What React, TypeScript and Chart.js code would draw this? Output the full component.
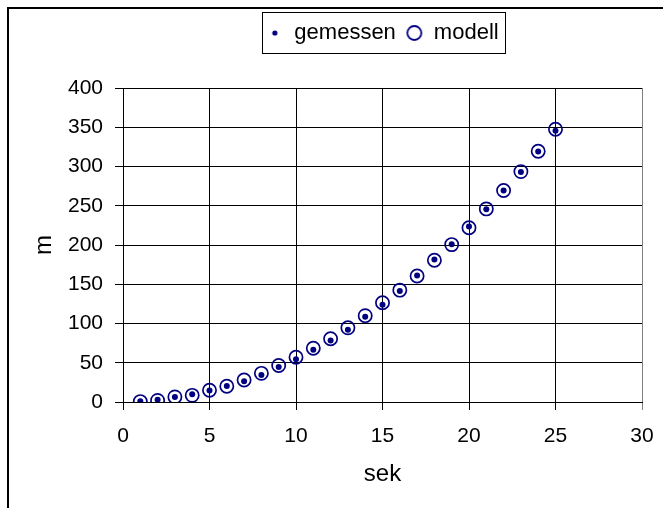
import React, { useEffect, useRef } from "react";
import { Chart, registerables } from "chart.js";

Chart.register(...registerables);

// ---- data ----
const SEK = [1, 2, 3, 4, 5, 6, 7, 8, 9, 10, 11, 12, 13, 14, 15, 16, 17, 18, 19, 20, 21, 22, 23, 24, 25];
const GEMESSEN = [1, 3, 6.5, 10, 14.5, 20.5, 26.5, 34.5, 44.5, 54.5, 66.5, 78.5, 92, 108.5, 124, 141.5, 161, 181.5, 201, 223.5, 245.5, 269.5, 293, 319, 345.5];
const MODELL = [0.5, 2, 6.5, 8.5, 15, 20, 28, 36.5, 46.5, 57, 68.5, 80.5, 94.5, 110, 126.5, 142.5, 160.5, 180.5, 200.5, 222, 246, 269.5, 293.5, 319.5, 347.5];
const SERIES_NAMES = ["gemessen", "modell"];
const X_TITLE = "sek";
const Y_TITLE = "m";
const X_MIN = 0, X_MAX = 30, X_STEP = 5;
const Y_MIN = 0, Y_MAX = 400, Y_STEP = 50;

const NAVY = "#000080";
const FONT = "'Liberation Sans', Arial, sans-serif";

function makeDot(r: number) {
  const c = document.createElement("canvas");
  const s = Math.ceil(r * 2) + 2;
  c.width = s; c.height = s;
  const ctx = c.getContext("2d")!;
  ctx.fillStyle = NAVY;
  ctx.beginPath();
  ctx.arc(s / 2, s / 2, r, 0, Math.PI * 2);
  ctx.fill();
  return c;
}
function makeRing(r: number, w: number) {
  const c = document.createElement("canvas");
  const s = Math.ceil(r * 2 + w) + 2;
  c.width = s; c.height = s;
  const ctx = c.getContext("2d")!;
  ctx.strokeStyle = NAVY;
  ctx.lineWidth = w;
  ctx.beginPath();
  ctx.arc(s / 2, s / 2, r, 0, Math.PI * 2);
  ctx.stroke();
  return c;
}

const framePlugin = {
  id: "outerFrame",
  beforeDraw(chart: any) {
    const ctx = chart.ctx;
    ctx.save();
    ctx.fillStyle = "#000";
    ctx.fillRect(7, 7, 2, chart.height - 7);
    ctx.fillRect(7, 7, chart.width - 7, 2);
    ctx.restore();
  },
};

const legendPlugin = {
  id: "legendTweaks",
  beforeLayout(chart: any) {
    const lg = chart.legend;
    if (lg && !lg.__patched) {
      const orig = lg.fit;
      lg.fit = function () {
        orig.call(this);
        this.height = 76;
      };
      lg.__patched = true;
    }
  },
  afterDraw(chart: any) {
    const lg = chart.legend;
    if (!lg || !lg.legendHitBoxes || !lg.legendHitBoxes.length) return;
    const hb = lg.legendHitBoxes;
    let l = Infinity, r = -Infinity, t = Infinity, b = -Infinity;
    for (const h of hb) {
      l = Math.min(l, h.left); r = Math.max(r, h.left + h.width);
      t = Math.min(t, h.top); b = Math.max(b, h.top + h.height);
    }
    const ctx = chart.ctx;
    ctx.save();
    ctx.strokeStyle = "#000";
    ctx.lineWidth = 1;
    ctx.strokeRect(Math.round(l - 4) + 0.5, Math.round(t - 10) + 0.5, Math.round(r - l + 11), Math.round(b - t + 19));
    ctx.restore();
  },
};

export default function App() {
  const ref = useRef<HTMLCanvasElement>(null);
  useEffect(() => {
    if (!ref.current) return;
    const dotImg = makeDot(2.6);
    const ringImg = makeRing(7, 1.8);
    const chart = new Chart(ref.current, {
      type: "scatter",
      data: {
        datasets: [
          {
            label: SERIES_NAMES[0],
            data: SEK.map((x, i) => ({ x, y: GEMESSEN[i] })),
            pointStyle: "circle",
            pointRadius: 3,
            backgroundColor: NAVY,
            borderColor: NAVY,
            borderWidth: 0,
          },
          {
            label: SERIES_NAMES[1],
            data: SEK.map((x, i) => ({ x, y: MODELL[i] })),
            pointStyle: "circle",
            pointRadius: 6.6,
            backgroundColor: "rgba(0,0,0,0)",
            borderColor: NAVY,
            borderWidth: 1.7,
          },
        ],
      },
      options: {
        responsive: false,
        animation: false,
        devicePixelRatio: 1,
        layout: { padding: { top: 12, left: 0, right: 21, bottom: 0 } },
        plugins: {
          tooltip: { enabled: false },
          legend: {
            display: true,
            position: "top",
            fullSize: false,
            labels: {
              usePointStyle: true,
              pointStyleWidth: 17,
              padding: 10,
              color: "#000",
              font: { family: FONT, size: 22 },
              generateLabels: () => [
                { text: SERIES_NAMES[0], pointStyle: dotImg, fillStyle: NAVY, strokeStyle: NAVY, lineWidth: 0, datasetIndex: 0, hidden: false },
                { text: SERIES_NAMES[1], pointStyle: ringImg, fillStyle: NAVY, strokeStyle: NAVY, lineWidth: 0, datasetIndex: 1, hidden: false },
              ] as any,
            },
          },
        },
        scales: {
          x: {
            type: "linear",
            min: X_MIN,
            max: X_MAX,
            afterFit: (s: any) => { s.height = 106; s.paddingRight = 0; },
            ticks: { stepSize: X_STEP, color: "#000", padding: 14, font: { family: FONT, size: 21 } },
            grid: {
              color: (c: any) => (c.tick && c.tick.value === X_MAX ? "#808080" : "#000"),
              lineWidth: 1,
              tickLength: 8,
              drawTicks: true,
            },
            border: { color: "#000", width: 1 },
            title: { display: true, text: X_TITLE, color: "#000", font: { family: FONT, size: 24 }, padding: { top: 0, bottom: 19 } },
          },
          y: {
            type: "linear",
            min: Y_MIN,
            max: Y_MAX,
            afterFit: (s: any) => { s.width = 123; },
            ticks: { stepSize: Y_STEP, color: "#000", padding: 12, font: { family: FONT, size: 21 } },
            grid: {
              color: "#000",
              lineWidth: 1,
              tickLength: 8,
              drawTicks: true,
            },
            border: { color: "#000", width: 1 },
            title: { display: true, text: Y_TITLE, color: "#000", font: { family: FONT, size: 24 }, padding: { top: 30, bottom: 0 } },
          },
        },
      },
      plugins: [framePlugin, legendPlugin],
    });
    return () => chart.destroy();
  }, []);
  return (
    <div style={{ position: "fixed", left: 0, top: 0, width: 663, height: 508, background: "#fff" }}>
      <canvas ref={ref} width={663} height={508} style={{ display: "block", width: 663, height: 508 }} />
    </div>
  );
}
